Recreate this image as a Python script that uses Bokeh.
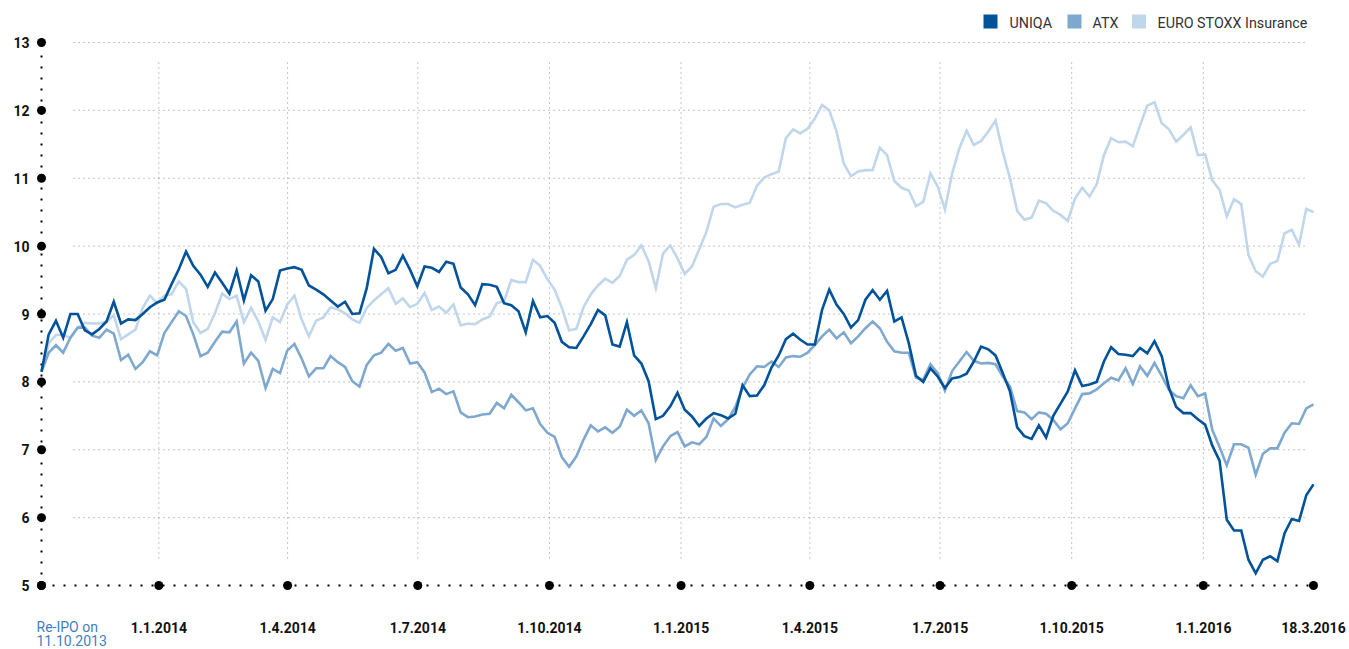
import pandas as pd
from bokeh.plotting import figure
from bokeh.models import Range1d
from bokeh.embed import file_html
from bokeh.resources import INLINE
from bokeh.core.properties import value

# ---------------- data ----------------
series_names = ["UNIQA", "ATX", "EURO STOXX Insurance"]
series_colors = ["#00529b", "#7fa8cf", "#c0d6ea"]

uniqa = [8.15, 8.70, 8.90, 8.65, 9.00, 9.00, 8.76, 8.70, 8.78, 8.89, 9.18, 8.86, 8.92, 8.91, 9.00, 9.10,
         9.17, 9.21, 9.44, 9.66, 9.92, 9.71, 9.58, 9.40, 9.61, 9.46, 9.30, 9.64, 9.20, 9.57, 9.48, 9.05,
         9.22, 9.64, 9.67, 9.69, 9.65, 9.42, 9.36, 9.29, 9.20, 9.11, 9.18, 9.00,
         9.01, 9.38, 9.96, 9.84, 9.60, 9.65, 9.86, 9.65, 9.41, 9.70, 9.68, 9.62, 9.77, 9.74, 9.39, 9.29,
         9.13, 9.44, 9.43, 9.40, 9.16, 9.13, 9.04, 8.73, 9.19, 8.95, 8.97, 8.87, 8.59, 8.51, 8.50, 8.67,
         8.85, 9.06, 8.98, 8.55, 8.52, 8.88, 8.39, 8.27, 8.01, 7.45, 7.50, 7.64, 7.84, 7.59,
         7.49, 7.35, 7.46, 7.54, 7.51, 7.46, 7.53, 7.95, 7.79, 7.80, 7.95, 8.21, 8.39, 8.63, 8.71, 8.62,
         8.55, 8.55, 9.06, 9.36, 9.14, 9.00, 8.80, 8.91, 9.21, 9.35, 9.21, 9.34, 8.89, 8.95, 8.57, 8.09,
         8.00, 8.20, 8.08, 7.91, 8.05, 8.07, 8.12, 8.30, 8.52, 8.48, 8.39, 8.13,
         7.86, 7.33, 7.20, 7.16, 7.36, 7.18, 7.50, 7.68, 7.86, 8.17, 7.94, 7.96, 8.00, 8.30, 8.51, 8.41,
         8.40, 8.38, 8.50, 8.42, 8.60, 8.38, 7.91, 7.63, 7.54, 7.54, 7.45, 7.37, 7.06, 6.84, 5.97, 5.81,
         5.81, 5.38, 5.18, 5.38, 5.43, 5.36, 5.77, 5.98, 5.95, 6.33, 6.49]

atx = [8.15, 8.43, 8.54, 8.43, 8.65, 8.80, 8.80, 8.68, 8.65, 8.77, 8.71, 8.32, 8.40, 8.19, 8.29, 8.45,
       8.39, 8.72, 8.88, 9.04, 8.97, 8.70, 8.38, 8.43, 8.59, 8.74, 8.73, 8.89, 8.27, 8.43, 8.31, 7.91,
       8.19, 8.13, 8.46, 8.56, 8.34, 8.08, 8.20, 8.20, 8.38, 8.29, 8.22, 8.01,
       7.93, 8.25, 8.39, 8.43, 8.56, 8.46, 8.50, 8.27, 8.29, 8.14, 7.85, 7.90, 7.82, 7.86, 7.55, 7.48,
       7.49, 7.52, 7.53, 7.69, 7.61, 7.81, 7.70, 7.58, 7.61, 7.38, 7.25, 7.19, 6.89, 6.75, 6.90, 7.15,
       7.36, 7.27, 7.33, 7.25, 7.34, 7.59, 7.50, 7.58, 7.39, 6.85, 7.05, 7.20, 7.26, 7.05,
       7.11, 7.08, 7.19, 7.46, 7.35, 7.45, 7.63, 7.91, 8.11, 8.23, 8.22, 8.30, 8.22, 8.36, 8.38, 8.37,
       8.43, 8.54, 8.67, 8.77, 8.64, 8.73, 8.57, 8.67, 8.79, 8.89, 8.79, 8.59, 8.45, 8.43, 8.43, 8.06,
       8.03, 8.26, 8.13, 7.87, 8.16, 8.30, 8.44, 8.31, 8.27, 8.28, 8.26, 8.08,
       7.93, 7.57, 7.55, 7.45, 7.55, 7.53, 7.44, 7.30, 7.39, 7.61, 7.82, 7.83, 7.89, 7.98, 8.06, 8.02,
       8.20, 7.97, 8.23, 8.09, 8.28, 8.09, 7.88, 7.79, 7.76, 7.95, 7.79, 7.83, 7.29, 7.04, 6.77, 7.08,
       7.08, 7.03, 6.63, 6.94, 7.02, 7.02, 7.25, 7.39, 7.38, 7.61, 7.67]

stoxx = [8.15, 8.57, 8.69, 8.69, 8.65, 8.79, 8.87, 8.86, 8.86, 8.89, 8.98, 8.63, 8.70, 8.77, 9.09, 9.27,
         9.16, 9.27, 9.29, 9.48, 9.37, 8.88, 8.72, 8.78, 9.01, 9.30, 9.22, 9.27, 8.88, 9.09, 8.89, 8.62,
         8.95, 8.88, 9.14, 9.27, 8.92, 8.67, 8.90, 8.95, 9.10, 9.07, 9.01, 8.92,
         8.87, 9.09, 9.20, 9.29, 9.38, 9.15, 9.23, 9.10, 9.15, 9.31, 9.06, 9.11, 9.02, 9.14, 8.83, 8.86,
         8.85, 8.92, 8.96, 9.16, 9.19, 9.50, 9.47, 9.47, 9.80, 9.71, 9.51, 9.36, 9.09, 8.76, 8.78, 9.10,
         9.29, 9.42, 9.52, 9.46, 9.56, 9.80, 9.87, 10.01, 9.78, 9.38, 9.89, 10.01, 9.82, 9.59,
         9.70, 9.95, 10.21, 10.58, 10.62, 10.62, 10.57, 10.61, 10.64, 10.89, 11.01, 11.06, 11.10, 11.59,
         11.72, 11.66, 11.73, 11.88, 12.08, 12.00, 11.69, 11.22, 11.03, 11.10, 11.12, 11.12, 11.45, 11.34,
         10.96, 10.86, 10.82, 10.59, 10.65, 11.07, 10.88, 10.54, 11.07, 11.44, 11.70, 11.49, 11.55, 11.69,
         11.85, 11.39,
         11.00, 10.52, 10.39, 10.42, 10.67, 10.63, 10.52, 10.46, 10.37, 10.70, 10.86, 10.73, 10.91, 11.34,
         11.59, 11.53, 11.54, 11.47, 11.78, 12.07, 12.12, 11.81, 11.72, 11.54, 11.64, 11.75, 11.34, 11.35,
         10.97, 10.83, 10.44, 10.69, 10.62, 9.87, 9.63, 9.55, 9.74, 9.78, 10.19, 10.24, 10.02, 10.55, 10.50]

start_date = "2013-10-11"
end_date = "2016-03-18"
start_label = ["Re-IPO on", "11.10.2013"]
end_label = "18.3.2016"
tick_dates = ["2014-01-01", "2014-04-01", "2014-07-01", "2014-10-01", "2015-01-01",
              "2015-04-01", "2015-07-01", "2015-10-01", "2016-01-01"]
tick_labels = ["1.1.2014", "1.4.2014", "1.7.2014", "1.10.2014", "1.1.2015",
               "1.4.2015", "1.7.2015", "1.10.2015", "1.1.2016"]
y_ticks = [5, 6, 7, 8, 9, 10, 11, 12, 13]


def ms(d):
    return pd.Timestamp(d).value / 1e6


dates = [t.value / 1e6 for t in pd.date_range(start_date, end_date, periods=len(uniqa))]
t0, t1 = ms(start_date), ms(end_date)
tick_ms = [ms(d) for d in tick_dates]
ymin, ymax = y_ticks[0], y_ticks[-1]

# ---------------- layout (page pixels) ----------------
W, H = 1349, 649
M = 0
ax_left_px, ax_right_px = 41, 1313
ax_top_px, ax_bot_px = 42, 585
kx = (t1 - t0) / (ax_right_px - ax_left_px)         # ms per px
ky = (ymax - ymin) / (ax_bot_px - ax_top_px)        # units per px


def X(px):
    return t0 + (px - ax_left_px) * kx


def Y(py):
    return ymin + (ax_bot_px - py) * ky


p = figure(width=W, height=H, output_backend="svg", toolbar_location=None,
           x_axis_location=None, y_axis_location=None,
           x_range=Range1d(X(M), X(M + W)), y_range=Range1d(Y(M + H), Y(M)),
           min_border=0, min_border_left=0, min_border_right=0,
           min_border_top=0, min_border_bottom=0, outline_line_color=None)
p.grid.visible = False
p.background_fill_color = "white"
p.border_fill_color = "white"

grid_color = "#8c8c8c"
# horizontal grid
hy = [v for v in y_ticks if v > ymin]
p.segment(x0=[X(73)] * len(hy), x1=[X(1307)] * len(hy), y0=hy, y1=hy,
          line_color=grid_color, line_width=1, line_dash="1 4")
# vertical grid
p.segment(x0=tick_ms, x1=tick_ms, y0=[Y(558)] * len(tick_ms), y1=[Y(58)] * len(tick_ms),
          line_color=grid_color, line_width=1, line_dash="1 4")

# axes (dotted)
p.line([t0, t0], [ymin, ymax], line_color="black", line_width=2, line_dash="2 9")
p.line([t0, t1], [ymin, ymin], line_color="black", line_width=2, line_dash="2 9")

# series
for vals, c in [(stoxx, series_colors[2]), (atx, series_colors[1]), (uniqa, series_colors[0])]:
    p.line(dates, vals, line_color=c, line_width=2.6, line_join="miter")

# big dots
p.scatter([t0] * len(y_ticks), y_ticks, size=9, fill_color="black", line_color=None)
bx = [t0] + tick_ms + [t1]
p.scatter(bx, [ymin] * len(bx), size=9, fill_color="black", line_color=None)

font = value("Roboto")
# y tick labels
p.text(x=[X(29)] * len(y_ticks), y=y_ticks, text=[str(v) for v in y_ticks],
       text_font=font, text_font_style="bold", text_font_size="14px",
       text_align="right", text_baseline="middle", text_color="#111111")
# x tick labels
p.text(x=tick_ms + [t1], y=[Y(627)] * (len(tick_ms) + 1), text=tick_labels + [end_label],
       text_font=font, text_font_style="bold", text_font_size="14px",
       text_align="center", text_baseline="middle", text_color="#111111")
p.text(x=[X(36), X(36)], y=[Y(626), Y(640)], text=start_label,
       text_font=font, text_font_size="14px",
       text_align="left", text_baseline="middle", text_color="#3f7fc1")

# legend
leg_sq_px = [990, 1074, 1138.5]
leg_tx_px = [1009, 1092, 1157]
p.scatter([X(v) for v in leg_sq_px], [Y(21)] * 3, marker="square", size=14,
          fill_color=series_colors, line_color=None)
p.text(x=[X(v) for v in leg_tx_px], y=[Y(22)] * 3, text=series_names,
       text_font=font, text_font_size="14.3px", text_align="left",
       text_baseline="middle", text_color="#333333")

open("out.html", "w").write(file_html(p, INLINE))
